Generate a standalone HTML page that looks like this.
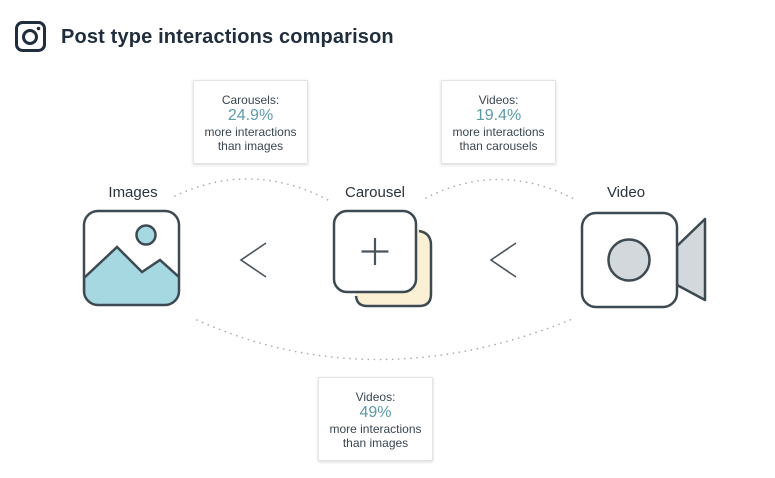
<!DOCTYPE html>
<html><head><style>
html,body{margin:0;padding:0;background:#fff;}
body{width:775px;height:478px;position:relative;overflow:hidden;font-family:"Liberation Sans",sans-serif;}
.t{position:absolute;left:61px;top:26px;font-size:20px;font-weight:bold;color:#1f2d3d;letter-spacing:0.15px;}
.box{position:absolute;width:115px;height:84px;background:#fff;border:1px solid #e2e5e8;box-shadow:0 1px 3px rgba(0,0,0,0.15);text-align:center;color:#3a4650;font-size:12px;line-height:14px;box-sizing:border-box;padding-top:12px;}
.box .p{color:#5c9aa8;font-size:16px;line-height:18px;}
.lbl{position:absolute;font-size:15px;color:#2a333c;transform:translateX(-50%);}
</style></head><body>
<svg width="775" height="478" style="position:absolute;left:0;top:0">
<rect x="16.5" y="22.5" width="28" height="28" rx="6" fill="none" stroke="#1f2d3d" stroke-width="3"/>
<circle cx="30" cy="37" r="6.5" fill="none" stroke="#1f2d3d" stroke-width="3"/>
<circle cx="38.5" cy="28.5" r="1.8" fill="#1f2d3d"/>
<g fill="none" stroke="#a5adb3" stroke-width="1.6" stroke-dasharray="0.1 6" stroke-linecap="round">
<path d="M175 196 Q252 160 328 200"/>
<path d="M426 198 Q500 160 576 200"/>
<path d="M197 320 Q375 400 575 318"/>
</g>
<defs><clipPath id="c1"><rect x="84" y="211" width="95" height="94" rx="14"/></clipPath></defs>
<g clip-path="url(#c1)"><path d="M84 278 L117 247 L142 272 L160 260 L180 278 L180 306 L84 306Z" fill="#a6d8e2" stroke="#3e4a52" stroke-width="2.5"/></g>
<rect x="84" y="211" width="95" height="94" rx="14" fill="none" stroke="#3e4a52" stroke-width="2.5"/>
<circle cx="146" cy="235" r="9.5" fill="#a6d8e2" stroke="#3e4a52" stroke-width="2.5"/>
<path d="M266 243 L241 260 L266 277" fill="none" stroke="#4a545c" stroke-width="1.6"/>
<path d="M516 243 L491 260 L516 277" fill="none" stroke="#4a545c" stroke-width="1.6"/>
<rect x="355" y="229" width="76" height="77" rx="12" fill="#fbf0d4"/>
<path d="M419 231 Q431 233 431 245 L431 294 Q431 306 419 306 L367 306 Q357 306 356 296" fill="none" stroke="#3e4a52" stroke-width="2.5"/>
<rect x="334" y="211" width="82" height="81" rx="13" fill="#fff" stroke="#3e4a52" stroke-width="2.5"/>
<path d="M375 238 V265 M361.5 251.5 H388.5" stroke="#4a545c" stroke-width="2.2"/>
<path d="M677 246 L705 219 L705 300 L677 285Z" fill="#d3d8dc" stroke="#3e4a52" stroke-width="2.5" stroke-linejoin="round"/>
<rect x="582" y="213" width="95" height="94" rx="14" fill="#fff" stroke="#3e4a52" stroke-width="2.5"/>
<circle cx="629" cy="260" r="20.5" fill="#d3d8dc" stroke="#3e4a52" stroke-width="2.5"/>
</svg>
<div class="t">Post type interactions comparison</div>
<div class="lbl" style="left:133px;top:184px">Images</div>
<div class="lbl" style="left:375px;top:184px">Carousel</div>
<div class="lbl" style="left:626px;top:184px">Video</div>
<div class="box" style="left:193px;top:80px">Carousels:<div class="p">24.9%</div>more interactions<br>than images</div>
<div class="box" style="left:441px;top:80px">Videos:<div class="p">19.4%</div>more interactions<br>than carousels</div>
<div class="box" style="left:318px;top:377px">Videos:<div class="p">49%</div>more interactions<br>than images</div>
</body></html>
